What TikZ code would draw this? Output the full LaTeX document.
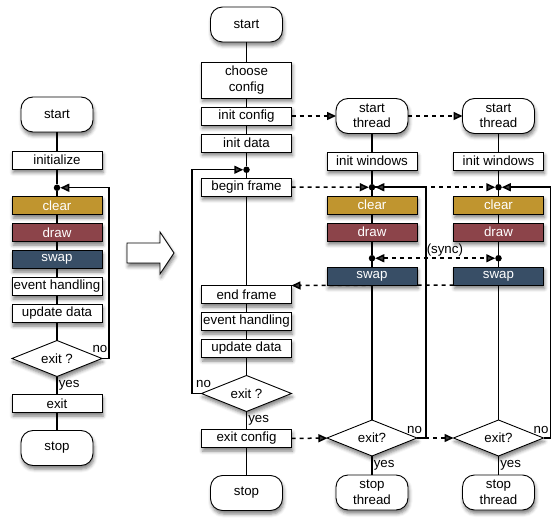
\documentclass[tikz,border=0pt]{standalone}
\usepackage{fontspec}
\setmainfont{Liberation Sans}
\usetikzlibrary{arrows.meta,positioning,shapes.geometric,shadows.blur,backgrounds}

\definecolor{clearcol}{RGB}{192,149,47}
\definecolor{drawcol}{RGB}{140,68,74}
\definecolor{swapcol}{RGB}{56,78,102}
\newcommand{\flowfont}{\fontsize{13.3}{15.5}\selectfont}

\begin{document}
\begin{tikzpicture}[x=1pt, y=1pt,
  proc/.style={draw, line width=0.9pt, fill=white, minimum width=90pt, minimum height=18pt, inner sep=1pt, outer sep=0pt, font=\flowfont,
    blur shadow={shadow xshift=1pt, shadow yshift=-3.5pt, shadow blur radius=3.5pt, shadow opacity=50}},
  tallproc/.style={proc, minimum height=36pt, align=center},
  term/.style={proc, rounded corners=12pt, minimum width=72pt, minimum height=35pt, align=center},
  cond/.style={proc, diamond, aspect=2.5, minimum width=90pt, minimum height=36pt, inner sep=0pt},
  colbox/.style={proc, fill=#1, text=white},
  junction/.style={circle, fill, minimum size=6.5pt, inner sep=0pt, outer sep=0pt},
  flow/.style={line width=1.5pt},
  arr/.style={-{Triangle[length=9pt,width=8pt]}, line width=1.5pt},
  sig/.style={arr, dash pattern=on 4pt off 4pt},
  note/.style={font=\flowfont, inner sep=1pt}
]
\useasboundingbox (0,0) rectangle (556,-526);

% simple loop
\node[term] (l-start) at (57,-114.5) {start};
\node[proc, below=19pt of l-start] (l-init) {initialize};
\node[junction, below=15.5pt of l-init] (l-dot) {};
\node[colbox=clearcol, below=5.5pt of l-dot] (l-clear) {clear};
\node[colbox=drawcol, below=9pt of l-clear] (l-draw) {draw};
\node[colbox=swapcol, below=9pt of l-draw] (l-swap) {swap};
\node[proc, below=9pt of l-swap] (l-events) {event handling};
\node[proc, below=9pt of l-events] (l-update) {update data};
\node[cond, below=18pt of l-update] (l-exit) {exit ?};
\node[proc, below=18pt of l-exit] (l-quit) {exit};
\node[term, below=18pt of l-quit] (l-stop) {stop};

\draw[line width=0.9pt, fill=white, blur shadow={shadow xshift=1pt, shadow yshift=-3.5pt, shadow blur radius=3.5pt, shadow opacity=50}]
  (127,-243) -- (160,-243) -- (160,-232) -- (174,-253) -- (160,-274) -- (160,-263) -- (127,-263) -- cycle;

% main thread
\node[term] (m-start) at (246.5,-24.5) {start};
\node[tallproc, below=20pt of m-start] (m-choose) {choose\\config};
\node[proc, below=9pt of m-choose] (m-initcfg) {init config};
\node[proc, below=9pt of m-initcfg] (m-initdata) {init data};
\node[junction, below=14.5pt of m-initdata] (m-dot) {};
\node[proc, below=5pt of m-dot] (m-begin) {begin frame};
\node[proc, below=89.5pt of m-begin] (m-end) {end frame};
\node[proc, below=9pt of m-end] (m-events) {event handling};
\node[proc, below=9pt of m-events] (m-update) {update data};
\node[cond, below=18pt of m-update] (m-exit) {exit ?};
\node[proc, below=18pt of m-exit] (m-exitcfg) {exit config};
\node[term, below=28pt of m-exitcfg] (m-stop) {stop};

% render threads
\node[term] (a-start) at (372,-116) {start\\thread};
\node[proc, below=18.5pt of a-start] (a-initwin) {init windows};
\node[junction, below=14pt of a-initwin] (a-dot) {};
\node[colbox=clearcol, below=5.5pt of a-dot] (a-clear) {clear};
\node[colbox=drawcol, below=9pt of a-clear] (a-draw) {draw};
\node[junction, below=14pt of a-draw] (a-sync) {};
\node[colbox=swapcol, below=5.5pt of a-sync] (a-swap) {swap};
\node[cond, below=135pt of a-swap] (a-exit) {exit?};
\node[term, below=19pt of a-exit] (a-stop) {stop\\thread};

\node[term] (b-start) at (498.5,-116) {start\\thread};
\node[proc, below=18.5pt of b-start] (b-initwin) {init windows};
\node[junction, below=14pt of b-initwin] (b-dot) {};
\node[colbox=clearcol, below=5.5pt of b-dot] (b-clear) {clear};
\node[colbox=drawcol, below=9pt of b-clear] (b-draw) {draw};
\node[junction, below=14pt of b-draw] (b-sync) {};
\node[colbox=swapcol, below=5.5pt of b-sync] (b-swap) {swap};
\node[cond, below=135pt of b-swap] (b-exit) {exit?};
\node[term, below=19pt of b-exit] (b-stop) {stop\\thread};

% control flow
\draw[flow] (l-start) -- (l-init) -- (l-dot) -- (l-clear) -- (l-draw) -- (l-swap) -- (l-events) -- (l-update) -- (l-exit)
  -- node[note, right] {yes} (l-quit) -- (l-stop);
\draw[arr] (l-exit.east) -- node[note, pos=0, anchor=south, xshift=-2pt, yshift=4pt] {no} ++(7,0) |- (l-dot);

\draw[flow] (m-start) -- (m-choose) -- (m-initcfg) -- (m-initdata) -- (m-dot) -- (m-begin) -- (m-end) -- (m-events) -- (m-update) -- (m-exit)
  -- node[note, right] {yes} (m-exitcfg) -- (m-stop);
\draw[arr] (m-exit.west) -- node[note, pos=0, anchor=south, xshift=2pt, yshift=4pt] {no} ++(-9.5,0) |- (m-dot);

% signals between threads
\draw[sig] (m-initcfg) -- (a-start);
\draw[sig] (a-start) -- (b-start);
\draw[sig] (m-begin) -- (a-dot);
\draw[sig] (a-dot) -- (b-dot);
\draw[sig, {Triangle[length=9pt,width=8pt]}-{Triangle[length=9pt,width=8pt]}] (a-sync) -- node[note, above, pos=0.58] {(sync)} (b-sync);
\draw[sig] (m-exitcfg) -- (a-exit);
\draw[sig] (a-exit) -- (b-exit);
\begin{pgfonlayer}{background}
\draw[sig] (b-swap.south west) -- (m-end.north east);
\end{pgfonlayer}

\draw[flow] (a-start) -- (a-initwin) -- (a-dot) -- (a-clear) -- (a-draw) -- (a-sync) -- (a-swap) -- (a-exit)
  -- node[note, right] {yes} (a-stop);
\draw[arr] (a-exit.east) -- node[note, pos=0, anchor=south, xshift=-2.5pt, yshift=3pt] {no} ++(9,0) |- (a-dot);

\draw[flow] (b-start) -- (b-initwin) -- (b-dot) -- (b-clear) -- (b-draw) -- (b-sync) -- (b-swap) -- (b-exit)
  -- node[note, right] {yes} (b-stop);
\draw[arr] (b-exit.east) -- node[note, pos=0, anchor=south, xshift=-2.5pt, yshift=3pt] {no} ++(7,0) |- (b-dot);

\end{tikzpicture}
\end{document}
